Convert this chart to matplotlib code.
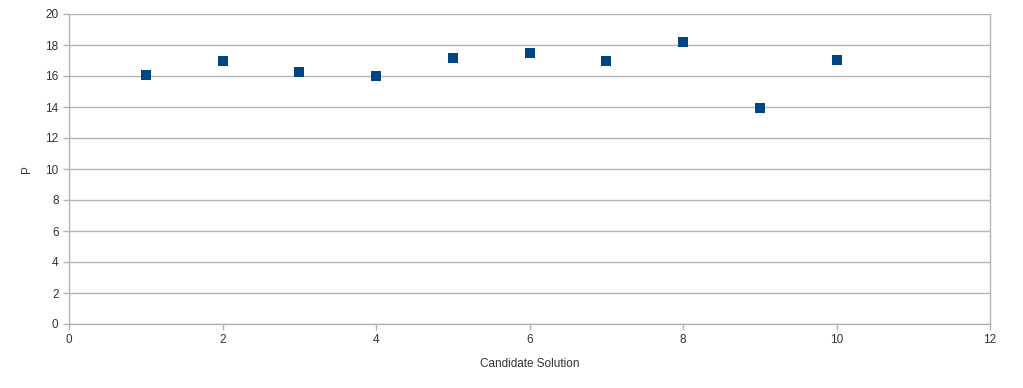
import matplotlib
matplotlib.use("Agg")
import matplotlib.pyplot as plt

candidates = [1, 2, 3, 4, 5, 6, 7, 8, 9, 10]
p_values = [16.06, 16.95, 16.26, 16.0, 17.18, 17.48, 16.97, 18.18, 13.94, 17.05]
x_ticks = [0, 2, 4, 6, 8, 10, 12]
y_ticks = [0, 2, 4, 6, 8, 10, 12, 14, 16, 18, 20]

plt.rcParams['font.family'] = ['Liberation Sans', 'DejaVu Sans']
fig = plt.figure(figsize=(10.23, 3.88), dpi=100)
ax = fig.add_axes([69/1023, 1-324/388, (990-69)/1023, (324-14)/388])

grid_c = '#b3b3b3'
ax.set_xlim(0, 12)
ax.set_ylim(0, 20)
ax.set_xticks(x_ticks)
ax.set_yticks(y_ticks)
ax.grid(axis='y', color=grid_c, linewidth=1)
ax.set_axisbelow(True)
for s in ['left', 'bottom', 'right']:
    ax.spines[s].set_color(grid_c)
    ax.spines[s].set_linewidth(1)
ax.spines['top'].set_visible(False)
ax.tick_params(axis='both', colors=grid_c, labelcolor='#333333', labelsize=8.5, length=4, width=1)

ax.scatter(candidates, p_values, marker='s', s=60, color='#004586', zorder=3, linewidths=0)

ax.set_xlabel('Candidate Solution', fontsize=8.5, color='#333333', labelpad=8)
ax.set_ylabel('P', fontsize=8.5, color='#333333', labelpad=9)

fig.savefig('out.png', dpi=100)
